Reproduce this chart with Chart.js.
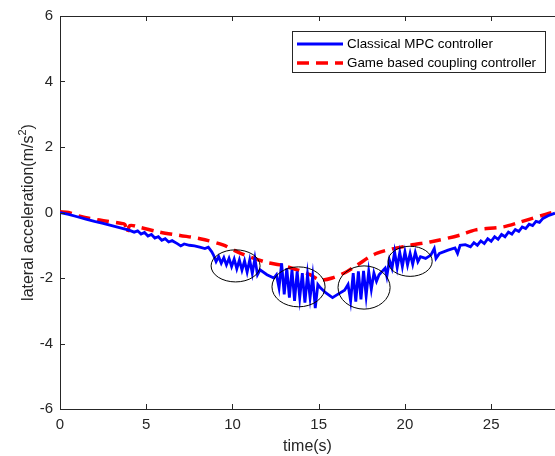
<!DOCTYPE html>
<html>
<head>
<meta charset="utf-8">
<script src="https://cdn.jsdelivr.net/npm/chart.js@4/dist/chart.umd.min.js"></script>
<style>
html,body{margin:0;padding:0;background:#fff;}
canvas{display:block;}
</style>
</head>
<body>
<canvas id="c" width="555" height="456"></canvas>
<script>
// ---- data ----
const seriesLabels = ['Classical MPC controller', 'Game based coupling controller'];
const xTicks = [0, 5, 10, 15, 20, 25];
const yTicks = [-6, -4, -2, 0, 2, 4, 6];
const xTitle = 'time(s)';
const yTitleParts = ['lateral acceleration(m/s', '2', ')'];

const timeMPC = [0,0.5,1,1.5,2,2.5,3,3.5,4,4.3,4.5,4.7,4.9,5.1,5.3,5.5,5.7,5.9,6.1,6.3,6.5,6.8,7.0,7.2,7.5,7.8,8.1,8.4,8.6,8.8,
  8.9,9.05,9.2,9.35,9.5,9.65,9.8,9.95,10.1,10.25,10.4,10.55,10.7,10.85,11.0,11.15,11.3,11.45,11.6,12.0,12.4,
  12.55,12.7,12.85,13.0,13.15,13.3,13.45,13.6,13.75,13.9,14.05,14.2,14.35,14.5,14.65,14.8,14.95,15.1,15.4,15.8,16.1,16.5,
  16.7,16.85,17.0,17.15,17.3,17.45,17.6,17.75,17.9,18.05,18.2,18.35,18.5,18.85,18.95,19.1,
  19.25,19.4,19.55,19.7,19.85,20.0,20.15,20.3,20.45,20.6,20.75,20.9,21.2,21.5,21.7,21.8,22.0,22.5,22.9,23.05,23.2,23.5,
  23.8,24.0,24.2,24.4,24.6,24.8,25.0,25.2,25.4,25.6,25.8,26.0,26.2,26.4,26.6,26.8,27.0,27.2,27.4,27.6,27.8,28.0,28.3,28.7];
const accMPC = [0,-0.06,-0.13,-0.2,-0.27,-0.33,-0.4,-0.47,-0.54,-0.6,-0.56,-0.66,-0.61,-0.72,-0.67,-0.78,-0.74,-0.85,-0.8,-0.9,-0.86,-0.95,-1.02,-0.96,-1.0,-1.02,-1.06,-1.1,-1.06,-1.2,
  -1.3,-1.5,-1.35,-1.55,-1.38,-1.6,-1.4,-1.65,-1.42,-1.72,-1.45,-1.76,-1.48,-1.82,-1.45,-1.86,-1.4,-1.9,-1.75,-1.9,-2.0,
  -1.9,-2.3,-1.55,-2.5,-1.7,-2.6,-1.75,-2.7,-1.8,-2.6,-1.85,-2.75,-1.9,-2.6,-1.95,-2.92,-2.2,-2.3,-2.45,-2.6,-2.5,-2.37,
  -2.2,-2.7,-1.85,-2.72,-1.8,-2.65,-1.78,-2.55,-1.8,-2.35,-1.85,-2.1,-1.9,-1.7,-1.95,-1.45,
  -1.7,-1.2,-1.68,-1.22,-1.65,-1.2,-1.6,-1.25,-1.58,-1.22,-1.5,-1.35,-1.4,-1.3,-1.1,-1.4,-1.25,-1.15,-1.08,-1.25,-1.0,-0.98,
  -1.05,-0.92,-1.0,-0.87,-0.95,-0.8,-0.88,-0.74,-0.82,-0.67,-0.74,-0.6,-0.66,-0.52,-0.58,-0.44,-0.49,-0.36,-0.4,-0.27,-0.3,-0.18,-0.1,-0.02];

const timeGame = [0,0.5,1.2,2.3,3.5,3.75,3.9,4.05,4.6,5.8,6.96,8.12,9.45,10.44,11.89,12.76,13.75,14.5,15.08,15.78,16.65,17.23,18.39,20.3,21.46,23.2,24.1,25.7,26.7,28.2,28.7];
const accGame = [0.02,0.0,-0.12,-0.23,-0.33,-0.36,-0.62,-0.4,-0.45,-0.6,-0.7,-0.8,-0.99,-1.24,-1.51,-1.6,-1.75,-1.9,-2.06,-2.0,-1.8,-1.6,-1.24,-1.0,-0.9,-0.69,-0.53,-0.44,-0.29,-0.05,0.02];

// highlighted regions (ellipses): centre time, centre acc, half-width (s), half-height (m/s^2)
const ellCx = [10.18, 13.83, 17.63, 20.3];
const ellCy = [-1.63, -2.27, -2.29, -1.49];
const ellRx = [1.42, 1.54, 1.51, 1.28];
const ellRy = [0.49, 0.61, 0.66, 0.46];

const AXIS = '#262626';
const FONT = '"Liberation Sans", Arial, Helvetica, sans-serif';

const ellipsePlugin = {
  id: 'ellipses',
  afterDatasetsDraw(chart) {
    const {ctx, scales: {x, y}} = chart;
    ctx.save();
    ctx.strokeStyle = '#000';
    ctx.lineWidth = 1;
    for (let i = 0; i < ellCx.length; i++) {
      const cx = x.getPixelForValue(ellCx[i]);
      const cy = y.getPixelForValue(ellCy[i]);
      const rx = Math.abs(x.getPixelForValue(ellCx[i] + ellRx[i]) - cx);
      const ry = Math.abs(y.getPixelForValue(ellCy[i] + ellRy[i]) - cy);
      ctx.beginPath();
      ctx.ellipse(cx, cy, rx, ry, 0, 0, Math.PI * 2);
      ctx.stroke();
    }
    ctx.restore();
  }
};

const axesPlugin = {
  id: 'matlabAxes',
  afterDraw(chart) {
    const {ctx, chartArea: a, scales: {x, y}} = chart;
    ctx.save();
    ctx.strokeStyle = AXIS;
    ctx.lineWidth = 1;
    ctx.beginPath();
    // top border
    ctx.moveTo(a.left, a.top + 0.5); ctx.lineTo(a.right, a.top + 0.5);
    const tl = 5;
    x.ticks.forEach(t => {
      const px = Math.round(x.getPixelForValue(t.value)) + 0.5;
      ctx.moveTo(px, a.bottom); ctx.lineTo(px, a.bottom - tl);
      ctx.moveTo(px, a.top); ctx.lineTo(px, a.top + tl);
    });
    y.ticks.forEach(t => {
      const py = Math.round(y.getPixelForValue(t.value)) + 0.5;
      ctx.moveTo(a.left, py); ctx.lineTo(a.left + tl, py);
    });
    ctx.stroke();

    // y-axis title with superscript
    const big = '16px ' + FONT, small = '11px ' + FONT;
    ctx.font = big; const w0 = ctx.measureText(yTitleParts[0]).width;
    const w2 = ctx.measureText(yTitleParts[2]).width;
    ctx.font = small; const w1 = ctx.measureText(yTitleParts[1]).width;
    const total = w0 + w1 + w2;
    const cy = (a.top + a.bottom) / 2;
    ctx.save();
    ctx.translate(33, cy);
    ctx.rotate(-Math.PI / 2);
    ctx.fillStyle = AXIS;
    ctx.textBaseline = 'alphabetic';
    ctx.textAlign = 'left';
    let xx = -total / 2;
    ctx.font = big; ctx.fillText(yTitleParts[0], xx, 0); xx += w0;
    ctx.font = small; ctx.fillText(yTitleParts[1], xx, -7); xx += w1;
    ctx.font = big; ctx.fillText(yTitleParts[2], xx, 0);
    ctx.restore();

    // legend
    const bx = 292, by = 31, bw = 253, bh = 41;
    ctx.fillStyle = '#fff';
    ctx.fillRect(bx, by, bw, bh);
    ctx.strokeStyle = AXIS;
    ctx.strokeRect(bx + 0.5, by + 0.5, bw, bh);
    const rows = [44, 63];
    chart.data.datasets.forEach((ds, i) => {
      ctx.beginPath();
      ctx.strokeStyle = ds.borderColor;
      ctx.lineWidth = ds.borderWidth;
      ctx.setLineDash(ds.borderDash || []);
      ctx.moveTo(297, rows[i]); ctx.lineTo(343, rows[i]);
      ctx.stroke();
      ctx.setLineDash([]);
      ctx.fillStyle = '#000';
      ctx.font = '13.4px ' + FONT;
      ctx.textBaseline = 'middle';
      ctx.textAlign = 'left';
      ctx.fillText(ds.label, 347, rows[i]);
    });
    ctx.restore();
  }
};

const toPts = (xs, ys) => xs.map((v, i) => ({x: v, y: ys[i]}));

new Chart(document.getElementById('c'), {
  type: 'line',
  data: {
    datasets: [
      {label: seriesLabels[0], data: toPts(timeMPC, accMPC), borderColor: '#0000ff', borderWidth: 2.8,
       pointRadius: 0, tension: 0, fill: false},
      {label: seriesLabels[1], data: toPts(timeGame, accGame), borderColor: '#ff0000', borderWidth: 3.5,
       borderDash: [12, 7], pointRadius: 0, tension: 0.3, fill: false}
    ]
  },
  options: {
    responsive: false,
    animation: false,
    devicePixelRatio: 1,
    layout: {padding: {top: 16, right: 0, left: 0, bottom: 0}},
    plugins: {legend: {display: false}, tooltip: {enabled: false}},
    scales: {
      x: {
        type: 'linear', min: 0, max: 28.7,
        afterBuildTicks: s => { s.ticks = xTicks.map(v => ({value: v})); },
        afterFit: s => { s.height = 47; },
        grid: {drawOnChartArea: false, drawTicks: false},
        border: {color: AXIS, width: 1},
        ticks: {color: AXIS, font: {family: FONT, size: 15}, padding: 7, maxRotation: 0},
        title: {display: true, text: xTitle, color: AXIS, font: {family: FONT, size: 16}, padding: {top: 0, bottom: 0}}
      },
      y: {
        type: 'linear', min: -6, max: 6,
        afterBuildTicks: s => { s.ticks = yTicks.map(v => ({value: v})); },
        afterFit: s => { s.width = 60; },
        grid: {drawOnChartArea: false, drawTicks: false},
        border: {color: AXIS, width: 1},
        ticks: {color: AXIS, font: {family: FONT, size: 15}, padding: 7},
        title: {display: false}
      }
    }
  },
  plugins: [ellipsePlugin, axesPlugin]
});
</script>
</body>
</html>
